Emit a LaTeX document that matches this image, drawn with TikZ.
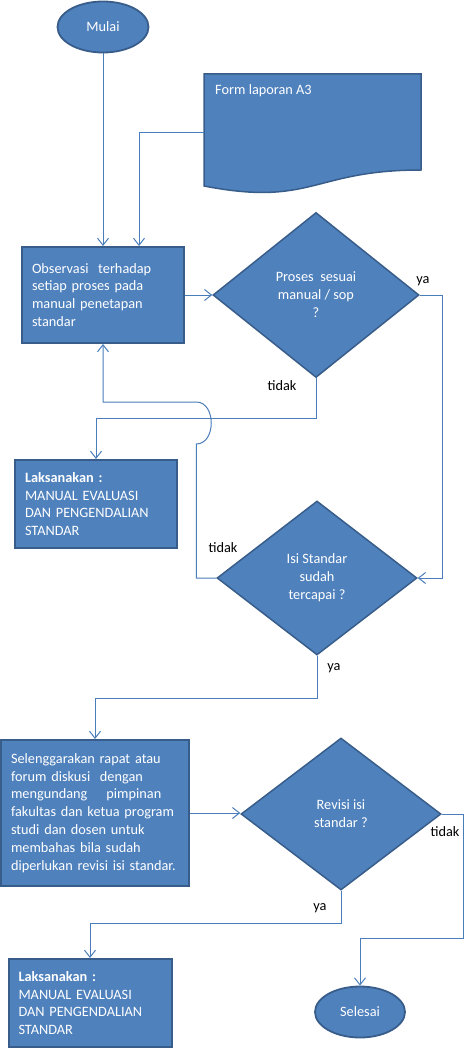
\documentclass[tikz,border=0pt]{standalone}
\usepackage{fontspec}
\setmainfont{Carlito}
\usepackage{xcolor}
\usepackage{tikz}
\usetikzlibrary{shapes.geometric, arrows.meta, positioning}

\definecolor{boxfill}{HTML}{4F81BD}
\definecolor{boxline}{HTML}{385D8A}
\definecolor{flowcol}{HTML}{4A7EBB}

\hyphenpenalty=10000
\exhyphenpenalty=10000

\tikzset{
    terminal/.style={draw=boxline, fill=boxfill, ellipse, line width=1.8pt, text=white, inner sep=0pt},
    process/.style={draw=boxline, fill=boxfill, rectangle, line width=2pt, text=white, align=left, inner xsep=10pt, inner ysep=0pt},
    decision/.style={draw=boxline, fill=boxfill, diamond, line width=1.5pt, text=white, align=center, inner sep=0pt},
    flowline/.style={draw=flowcol, line width=1pt, -{Straight Barb[length=7pt,width=11pt]}},
    lbl/.style={inner sep=0pt, text=black}
}

\begin{document}
\begin{tikzpicture}[x=1pt, y=-1pt, font=\fontsize{14.3}{17.9}\selectfont]
        \useasboundingbox (0,0) rectangle (474,1048);

        % Start and input form
        \node[terminal, minimum width=91pt, minimum height=51pt] (mulai) at (103,27) {Mulai};
        \draw[draw=boxline, fill=boxfill, line width=1.5pt]
            (204,74) -- (421,74) -- (421,170) .. controls (312.5,170) and (312.5,207) .. (204,186) -- cycle;
        \node[lbl, text=white, anchor=north west] (form) at (215,84) {Form laporan A3};
        \coordinate (formin) at (204,133);

        % Observation and first check
        \node[process, minimum width=162pt, minimum height=96pt, text width=142pt] (obs) at (103,295)
            {Observasi\ \ terhadap\\setiap proses pada\\manual penetapan\\standar};
        \node[decision, minimum width=206pt, minimum height=165pt] (d1) at (316,295)
            {Proses\ \ sesuai\\manual / sop\\?};
        \node[process, minimum width=162pt, minimum height=88pt, text width=142pt] (lak1) at (96,504)
            {\textbf{Laksanakan :}\\MANUAL EVALUASI\\DAN PENGENDALIAN\\STANDAR};
        \node[decision, minimum width=200pt, minimum height=154pt] (d2) at (317,578)
            {Isi Standar\\sudah\\tercapai ?};

        % Meeting and revision
        \node[process, minimum width=188pt, minimum height=146pt, text width=168pt] (rapat) at (95,813)
            {Selenggarakan rapat atau\\forum diskusi\ \ dengan\\mengundang\ \ \ \ pimpinan\\fakultas dan ketua program\\studi dan dosen untuk\\membahas bila sudah\\diperlukan revisi isi standar.};
        \node[decision, minimum width=200pt, minimum height=152pt] (d3) at (341,814)
            {Revisi isi\\standar ?};
        \node[process, minimum width=163pt, minimum height=88pt, text width=143pt] (lak2) at (90,1003)
            {\textbf{Laksanakan :}\\MANUAL EVALUASI\\DAN PENGENDALIAN\\STANDAR};
        \node[terminal, minimum width=90pt, minimum height=51pt] (selesai) at (360,1012) {Selesai};

        % Connectors
        \draw[flowline] (mulai) -- (obs);
        \draw[flowline] (formin) -| ([xshift=36pt]obs.north);
        \draw[flowline] (obs) -- (d1);
        \draw[flowline] (d1.east) -- ++(23,0) |- (d2.east);
        \draw[flowline] (d1.south) -- ++(0,40) -| (lak1.north);
        \draw[flowline] (d2.west) -- ++(-20,0) -- ++(0,-134)
            .. controls +(20,0) and +(20,0) .. ++(0,-42) -| (obs.south);
        \draw[flowline] (d2.south) -- ++(0,43) -| (rapat.north);
        \draw[flowline] (rapat.east) -- (rapat.east -| d3.west);
        \draw[flowline] (d3.east) -- ++(22,0) -- ++(0,124) -| (selesai.north);
        \draw[flowline] (d3.south) -- ++(0,33) -| (lak2.north);

        % Branch labels
        \node[lbl] (ya1) at (423,281) {ya};
        \node[lbl] (tidak1) at (282,386) {tidak};
        \node[lbl] (tidak2) at (223,548) {tidak};
        \node[lbl] (ya2) at (334,668) {ya};
        \node[lbl] (tidak3) at (445,832) {tidak};
        \node[lbl] (ya3) at (320,908) {ya};

    \end{tikzpicture}
\end{document}
